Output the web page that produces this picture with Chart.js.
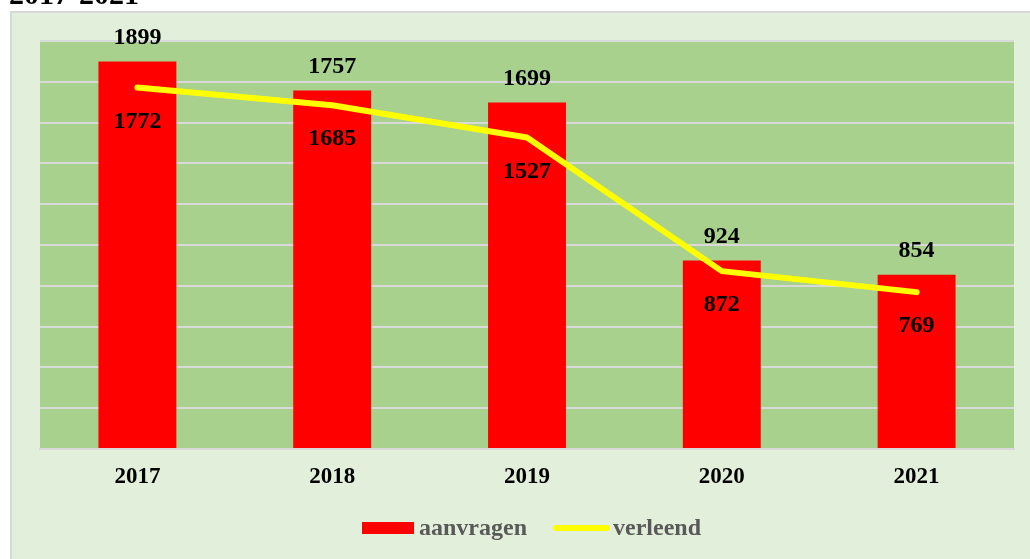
<!DOCTYPE html>
<html>
<head>
<meta charset="utf-8">
<script src="https://cdn.jsdelivr.net/npm/chart.js@4/dist/chart.umd.min.js"></script>
<style>
  html, body { margin: 0; padding: 0; background: #ffffff; }
  #wrap { position: relative; width: 1030px; height: 559px; overflow: hidden; }
  #title { position: absolute; left: 9px; top: -21px; font: bold 30px "Liberation Serif", "Times New Roman", serif; line-height: 30px; color: #000; white-space: nowrap; z-index: 2; }
  canvas { position: absolute; left: 0; top: 0; }
</style>
</head>
<body>
<div id="wrap">
  <div id="title">2017-2021</div>
  <canvas id="c" width="1030" height="559"></canvas>
</div>
<script>
const categories = ["2017", "2018", "2019", "2020", "2021"];
const aanvragen = [1899, 1757, 1699, 924, 854];
const verleend = [1772, 1685, 1527, 872, 769];
const seriesNames = ["aanvragen", "verleend"];
const yTicks = [0, 200, 400, 600, 800, 1000, 1200, 1400, 1600, 1800, 2000];

const SERIF = '"Liberation Serif", "Times New Roman", serif';

const backgroundPlugin = {
  id: 'bg',
  beforeDraw(chart) {
    const ctx = chart.ctx;
    const a = chart.chartArea;
    ctx.save();
    ctx.fillStyle = '#e2efda';
    ctx.fillRect(10, 11, 1030, 560);
    ctx.strokeStyle = '#d9d9d9';
    ctx.lineWidth = 2;
    ctx.strokeRect(11, 12, 1030, 560);
    ctx.fillStyle = '#a9d18e';
    ctx.fillRect(a.left, a.top, a.right - a.left, a.bottom - a.top);
    ctx.restore();
  }
};

const labelPlugin = {
  id: 'labels',
  afterDatasetsDraw(chart) {
    const ctx = chart.ctx;
    ctx.save();
    ctx.font = 'bold 24px ' + SERIF;
    ctx.fillStyle = '#000';
    ctx.textAlign = 'center';
    ctx.textBaseline = 'middle';
    const barMeta = chart.getDatasetMeta(0);
    barMeta.data.forEach((el, i) => {
      ctx.fillText(String(aanvragen[i]), el.x, el.y - 24);
    });
    const lineMeta = chart.getDatasetMeta(1);
    lineMeta.data.forEach((el, i) => {
      ctx.fillText(String(verleend[i]), el.x, el.y + 34);
    });
    ctx.restore();
  },
  afterDraw(chart) {
    const ctx = chart.ctx;
    ctx.save();
    // custom legend
    ctx.fillStyle = '#ff0000';
    ctx.fillRect(362, 522, 52, 12);
    ctx.font = 'bold 24px ' + SERIF;
    ctx.fillStyle = '#595959';
    ctx.textAlign = 'left';
    ctx.textBaseline = 'middle';
    ctx.fillText(seriesNames[0], 419, 529);
    ctx.strokeStyle = '#ffff00';
    ctx.lineWidth = 6;
    ctx.lineCap = 'round';
    ctx.beginPath();
    ctx.moveTo(556, 528);
    ctx.lineTo(607, 528);
    ctx.stroke();
    ctx.fillText(seriesNames[1], 613, 529);
    ctx.restore();
  }
};

new Chart(document.getElementById('c'), {
  data: {
    labels: categories,
    datasets: [
      {
        type: 'bar',
        label: seriesNames[0],
        data: aanvragen,
        backgroundColor: '#ff0000',
        borderWidth: 0,
        barPercentage: 0.4,
        categoryPercentage: 1.0,
        order: 2
      },
      {
        type: 'line',
        label: seriesNames[1],
        data: verleend,
        borderColor: '#ffff00',
        backgroundColor: '#ffff00',
        borderWidth: 6,
        borderCapStyle: 'round',
        borderJoinStyle: 'round',
        pointRadius: 0,
        tension: 0,
        fill: false,
        order: 1
      }
    ]
  },
  options: {
    responsive: false,
    animation: false,
    devicePixelRatio: 1,
    layout: { padding: { left: 40, right: 16, top: 41, bottom: 0 } },
    plugins: {
      legend: { display: false },
      tooltip: { enabled: false },
      title: { display: false }
    },
    scales: {
      x: {
        grid: { display: false, drawTicks: false },
        border: { display: true, color: '#d9d9d9', width: 2 },
        ticks: {
          color: '#000',
          font: { family: SERIF, size: 23, weight: 'bold' },
          padding: 14
        },
        afterFit(scale) { scale.height = 110; }
      },
      y: {
        min: 0,
        max: 2000,
        afterBuildTicks(scale) { scale.ticks = yTicks.map(v => ({ value: v })); },
        ticks: { display: false },
        grid: { color: '#d9d9d9', lineWidth: 2, drawTicks: false },
        border: { display: false },
        afterFit(scale) { scale.width = 0; }
      }
    }
  },
  plugins: [backgroundPlugin, labelPlugin]
});
</script>
</body>
</html>
